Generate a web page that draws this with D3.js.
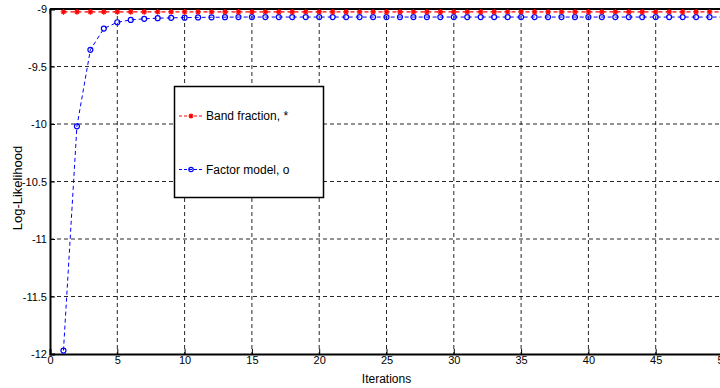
<!DOCTYPE html>
<html>
<head>
<meta charset="utf-8">
<script src="https://cdn.jsdelivr.net/npm/d3@7"></script>
<style>
  html, body { margin: 0; padding: 0; background: #fff; overflow: hidden; }
  svg { display: block; font-family: "Liberation Sans", Arial, sans-serif; }
</style>
</head>
<body>
<svg id="chart" width="720" height="388"></svg>
<script>
// Iterations of the EM run
const iterations = d3.range(1, 51);

// Log-likelihood per iteration for each model
const bandFraction = iterations.map(() => -9.025);
const factorModel = [
  -11.97, -10.02, -9.355, -9.17, -9.115, -9.095, -9.085, -9.08, -9.077, -9.075,
  -9.073, -9.072, -9.071, -9.07, -9.07, -9.07, -9.07, -9.07, -9.07, -9.07,
  -9.07, -9.07, -9.07, -9.07, -9.07, -9.07, -9.07, -9.07, -9.07, -9.07,
  -9.07, -9.07, -9.07, -9.07, -9.07, -9.07, -9.07, -9.07, -9.07, -9.07,
  -9.07, -9.07, -9.07, -9.07, -9.07, -9.07, -9.07, -9.07, -9.07, -9.07
];

const xTicks = [0, 5, 10, 15, 20, 25, 30, 35, 40, 45, 50];
const yTicks = [-12, -11.5, -11, -10.5, -10, -9.5, -9];

const seriesNames = ["Band fraction, *", "Factor model, o"];
const seriesColors = ["#ff0000", "#0000ff"];

const svg = d3.select("#chart");
const m = { left: 50, top: 9, right: 723, bottom: 354 };

const x = d3.scaleLinear().domain([0, 50]).range([m.left, m.right]);
const y = d3.scaleLinear().domain([-12, -9]).range([m.bottom, m.top]);

// grid
const grid = svg.append("g").attr("stroke", "#000").attr("stroke-width", 1)
  .attr("stroke-dasharray", "4,3").attr("fill", "none");
xTicks.filter(t => t > 0 && t < 50).forEach(t => {
  grid.append("line").attr("x1", x(t)).attr("x2", x(t)).attr("y1", m.top).attr("y2", m.bottom).attr("stroke-opacity", 0.85);
});
yTicks.filter(t => t > -12 && t < -9).forEach(t => {
  grid.append("line").attr("y1", y(t)).attr("y2", y(t)).attr("x1", m.left).attr("x2", m.right).attr("stroke-opacity", 0.85);
});

// axes
const xAxis = svg.append("g").attr("transform", `translate(0,${m.bottom})`)
  .call(d3.axisBottom(x).tickValues(xTicks).tickSize(-5).tickPadding(3).tickFormat(d3.format("d")));
const yAxis = svg.append("g").attr("transform", `translate(${m.left},0)`)
  .call(d3.axisLeft(y).tickValues(yTicks).tickSize(-5).tickPadding(3).tickFormat(d => String(d)));
[xAxis, yAxis].forEach(g => {
  g.selectAll("text").attr("font-size", 11).attr("fill", "#000").attr("font-family", "Liberation Sans, Arial, sans-serif");
  g.selectAll("line").attr("stroke", "#000");
  g.select(".domain").attr("stroke", "#000").attr("stroke-width", 2);
});
xAxis.selectAll("text").attr("dy", "0.6em");
// top border
svg.append("line").attr("x1", m.left).attr("x2", m.right).attr("y1", m.top).attr("y2", m.top)
  .attr("stroke", "#000").attr("stroke-width", 2);
// top-edge tick marks
xTicks.forEach(t => svg.append("line").attr("x1", x(t)).attr("x2", x(t)).attr("y1", m.top).attr("y2", m.top + 5).attr("stroke", "#000"));

// axis titles
svg.append("text").attr("x", x(25)).attr("y", 383).attr("text-anchor", "middle")
  .attr("font-size", 12).text("Iterations");
svg.append("text").attr("transform", `translate(22,188) rotate(-90)`)
  .attr("text-anchor", "middle").attr("font-size", 13).text("Log-Likelihood");

const line = d3.line().x((d, i) => x(iterations[i])).y(d => y(d));

function star(g, cx, cy, color, r) {
  g.append("path")
    .attr("d", `M${cx - r},${cy}H${cx + r}M${cx},${cy - r}V${cy + r}M${cx - r * 0.7},${cy - r * 0.7}L${cx + r * 0.7},${cy + r * 0.7}M${cx - r * 0.7},${cy + r * 0.7}L${cx + r * 0.7},${cy - r * 0.7}`)
    .attr("stroke", color).attr("stroke-width", 1.2).attr("fill", "none");
}
function circ(g, cx, cy, color, r) {
  g.append("circle").attr("cx", cx).attr("cy", cy).attr("r", r)
    .attr("stroke", color).attr("stroke-width", 1.2).attr("fill", "none");
}

// Factor model series
const gF = svg.append("g");
gF.append("path").datum(factorModel).attr("d", line).attr("fill", "none")
  .attr("stroke", seriesColors[1]).attr("stroke-width", 1).attr("stroke-dasharray", "4,3");
factorModel.forEach((v, i) => circ(gF, x(iterations[i]), y(v), seriesColors[1], 2.5));

// Band fraction series
const gB = svg.append("g");
gB.append("path").datum(bandFraction).attr("d", line).attr("fill", "none")
  .attr("stroke", seriesColors[0]).attr("stroke-width", 1.2).attr("stroke-dasharray", "4,3");
bandFraction.forEach((v, i) => star(gB, x(iterations[i]), y(v), seriesColors[0], 2.8));

// legend
const lg = svg.append("g");
lg.append("rect").attr("x", 174.5).attr("y", 86.5).attr("width", 149).attr("height", 111)
  .attr("fill", "#fff").attr("stroke", "#000").attr("stroke-width", 1.5);
const legendY = [116, 169.5];
seriesNames.forEach((name, i) => {
  lg.append("line").attr("x1", 179).attr("x2", 203).attr("y1", legendY[i]).attr("y2", legendY[i])
    .attr("stroke", seriesColors[i]).attr("stroke-width", 1).attr("stroke-dasharray", "3,2");
  if (i === 0) star(lg, 191, legendY[i], seriesColors[i], 2.5);
  else circ(lg, 191, legendY[i], seriesColors[i], 2.2);
  lg.append("text").attr("x", 206).attr("y", legendY[i]).attr("dy", "0.35em")
    .attr("font-size", 12).text(name);
});
</script>
</body>
</html>
